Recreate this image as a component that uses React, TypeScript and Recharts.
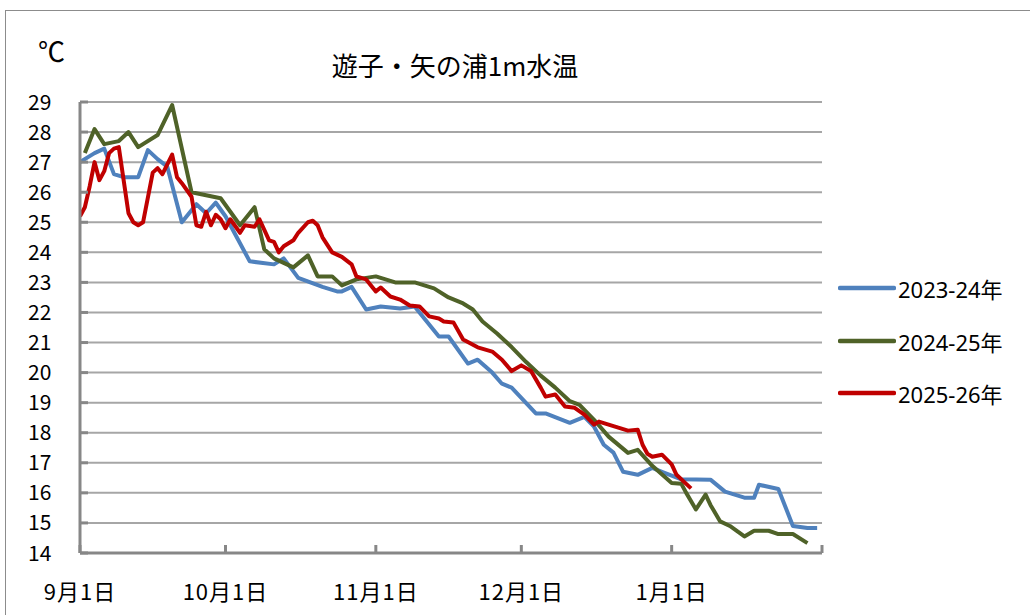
import { LineChart, Line, XAxis, YAxis, CartesianGrid } from "recharts";

// day index from 9/1 (0) to 2/1 (153), water temperature in ℃
const days2023 = [0, 3, 5, 7, 9, 12, 14, 16, 18, 21, 24, 26, 28, 30, 35, 40, 42, 45, 50, 53, 54, 56, 59, 62, 66, 69, 74, 76, 80, 82, 85, 87, 89, 94, 96, 101, 104, 106, 108, 110, 112, 115, 118, 120, 124, 130, 133, 137, 139, 140, 144, 147, 150, 152];
const temps2023 = [27.0, 27.3, 27.45, 26.6, 26.5, 26.5, 27.4, 27.1, 26.85, 25.0, 25.6, 25.3, 25.65, 25.2, 23.7, 23.6, 23.8, 23.15, 22.85, 22.7, 22.7, 22.85, 22.1, 22.2, 22.13, 22.2, 21.2, 21.2, 20.3, 20.43, 20.0, 19.63, 19.5, 18.64, 18.64, 18.33, 18.53, 18.2, 17.6, 17.34, 16.7, 16.6, 16.83, 16.7, 16.45, 16.44, 16.04, 15.84, 15.84, 16.27, 16.13, 14.9, 14.83, 14.83];

const days2024 = [1, 3, 5, 8, 10, 12, 16, 19, 23, 29, 33, 36, 38, 40, 44, 47, 49, 52, 54, 57, 61, 65, 69, 73, 76, 79, 81, 83, 86, 89, 92, 95, 98, 101, 103, 106, 109, 113, 115, 118, 122, 124, 125, 127, 129, 130, 132, 134, 137, 139, 142, 144, 147, 150];
const temps2024 = [27.3, 28.1, 27.6, 27.7, 28.0, 27.5, 27.9, 28.9, 26.0, 25.8, 24.9, 25.5, 24.1, 23.8, 23.5, 23.9, 23.2, 23.2, 22.9, 23.1, 23.2, 23.0, 23.0, 22.8, 22.5, 22.3, 22.1, 21.7, 21.3, 20.85, 20.35, 19.9, 19.5, 19.05, 18.93, 18.43, 17.87, 17.33, 17.43, 16.9, 16.33, 16.3, 16.0, 15.45, 15.94, 15.6, 15.05, 14.9, 14.55, 14.74, 14.74, 14.63, 14.63, 14.33];

const days2025 = [0, 1, 2, 3, 4, 5, 6, 7, 8, 10, 11, 12, 13, 15, 16, 17, 19, 20, 21, 23, 24, 25, 26, 27, 28, 29, 30, 31, 33, 34, 36, 37, 39, 40, 41, 42, 44, 45, 47, 48, 49, 50, 52, 54, 56, 57, 59, 61, 62, 64, 66, 68, 70, 72, 74, 75, 77, 79, 82, 85, 87, 89, 91, 93, 95, 96, 98, 100, 102, 104, 106, 107, 109, 111, 113, 115, 116, 117, 118, 120, 122, 123, 125, 126];
const temps2025 = [25.2, 25.5, 26.2, 27.0, 26.4, 26.7, 27.3, 27.45, 27.5, 25.3, 25.0, 24.9, 25.0, 26.65, 26.8, 26.6, 27.25, 26.5, 26.3, 25.85, 24.9, 24.85, 25.35, 24.9, 25.25, 25.1, 24.8, 25.1, 24.65, 24.9, 24.85, 25.1, 24.4, 24.35, 24.0, 24.2, 24.4, 24.65, 25.0, 25.05, 24.9, 24.5, 24.0, 23.85, 23.6, 23.2, 23.1, 22.7, 22.83, 22.53, 22.43, 22.23, 22.2, 21.87, 21.8, 21.7, 21.67, 21.1, 20.84, 20.7, 20.43, 20.05, 20.24, 20.05, 19.5, 19.2, 19.27, 18.87, 18.83, 18.6, 18.27, 18.37, 18.27, 18.17, 18.07, 18.1, 17.6, 17.3, 17.2, 17.27, 16.95, 16.6, 16.3, 16.15];

const xTicks = [0, 30, 61, 91, 122, 153];
const xTickLabels = ["9月1日", "10月1日", "11月1日", "12月1日", "1月1日", ""];
const yTicks = [14, 15, 16, 17, 18, 19, 20, 21, 22, 23, 24, 25, 26, 27, 28, 29];

const seriesNames = ["2023-24年", "2024-25年", "2025-26年"];
const seriesColors = ["#4f81bd", "#4f6228", "#c00000"];

const toPoints = (days: number[], temps: number[]) =>
  days.map((d, i) => ({ d, t: temps[i] }));

const series = [
  toPoints(days2023, temps2023),
  toPoints(days2024, temps2024),
  toPoints(days2025, temps2025),
];

const FONT = '"Noto Sans CJK JP", "Noto Sans", sans-serif';
const AXIS = "#878787";

function YTick({ x, y, payload }: any) {
  return (
    <g>
      <line x1={x} x2={x + 8} y1={y} y2={y} stroke={AXIS} strokeWidth={3} />
      <text x={28} y={y} dy="0.36em" fontSize={21} fill="#000" fontFamily={FONT}>
        {payload.value}
      </text>
    </g>
  );
}

function XTick({ x, y, payload, index }: any) {
  return (
    <g>
      <line x1={x} x2={x} y1={y} y2={y - 8} stroke={AXIS} strokeWidth={3} />
      <text x={x} y={y + 39} dy="0.36em" textAnchor="middle" fontSize={22} fill="#000" fontFamily={FONT} letterSpacing={1}>
        {xTickLabels[index] ?? xTickLabels[xTicks.indexOf(payload.value)]}
      </text>
    </g>
  );
}

export default function App() {
  return (
    <div
      style={{
        position: "absolute",
        left: 0,
        top: 0,
        width: 1030,
        height: 615,
        background: "#fff",
        overflow: "hidden",
        fontFamily: FONT,
      }}
    >
      <div
        style={{
          position: "absolute",
          left: 5,
          top: 10,
          width: 1100,
          height: 700,
          border: "1px solid #8c8c8c",
        }}
      />
      <div style={{ position: "absolute", left: 38, top: 34, fontSize: 27, lineHeight: "34px" }}>℃</div>
      <div
        style={{
          position: "absolute",
          left: 255,
          width: 400,
          top: 48,
          textAlign: "center",
          fontSize: 26,
          lineHeight: "34px",
        }}
      >
        遊子・矢の浦1m水温
      </div>

      <div style={{ position: "absolute", left: 0, top: 0 }}>
        <LineChart
          width={1030}
          height={615}
          margin={{ top: 102, right: 208, bottom: 22, left: 0 }}
        >
          <CartesianGrid horizontal vertical={false} stroke="#a6a6a6" strokeWidth={2} />
          <XAxis
            dataKey="d"
            type="number"
            domain={[0, 153]}
            ticks={xTicks}
            interval={0}
            height={40}
            tickSize={0}
            tickMargin={0}
            tickLine={false}
            axisLine={{ stroke: AXIS, strokeWidth: 3 }}
            tick={<XTick />}
            allowDataOverflow
          />
          <YAxis
            type="number"
            domain={[14, 29]}
            ticks={yTicks}
            interval={0}
            width={80}
            tickSize={0}
            tickMargin={0}
            tickLine={false}
            axisLine={{ stroke: AXIS, strokeWidth: 3 }}
            tick={<YTick />}
            allowDataOverflow
          />
          {series.map((data, i) => (
            <Line
              key={seriesNames[i]}
              data={data}
              dataKey="t"
              name={seriesNames[i]}
              type="linear"
              stroke={seriesColors[i]}
              strokeWidth={4}
              strokeLinejoin="round"
              dot={false}
              activeDot={false}
              isAnimationActive={false}
            />
          ))}
        </LineChart>
      </div>

      {seriesNames.map((name, i) => (
        <div
          key={name}
          style={{
            position: "absolute",
            left: 838,
            top: 288 + i * 52.5 - 16,
            height: 32,
            display: "flex",
            alignItems: "center",
          }}
        >
          <svg width={58} height={8}>
            <line x1={2} x2={56} y1={4} y2={4} stroke={seriesColors[i]} strokeWidth={4.5} strokeLinecap="round" />
          </svg>
          <span style={{ marginLeft: 2, fontSize: 22, fontFamily: '"Noto Sans", "Noto Sans CJK JP", sans-serif' }}>
            {name}
          </span>
        </div>
      ))}
    </div>
  );
}
